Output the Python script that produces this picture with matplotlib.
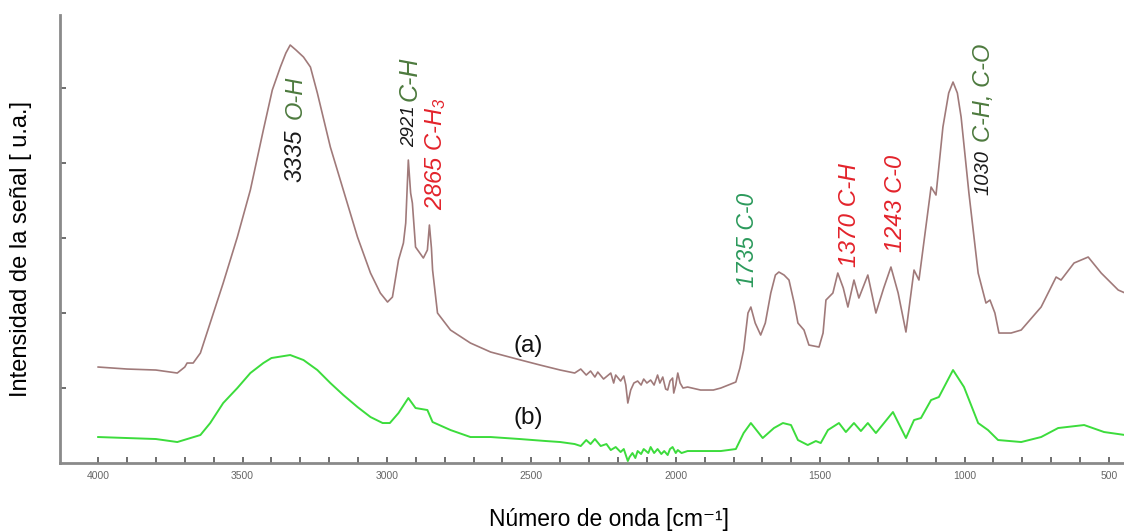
import matplotlib.pyplot as plt

# =========================================================
# DATA  (wavenumber [cm-1], intensity [a.u.])
# =========================================================

wn_a = [4000, 3900, 3800, 3726, 3700, 3692, 3671, 3646, 3612, 3567, 3518, 3473,
        3428, 3397, 3369, 3350, 3335, 3315, 3289, 3265, 3241, 3196, 3151, 3102,
        3057, 3023, 2998, 2981, 2960, 2943, 2935, 2926, 2918, 2912, 2901, 2874,
        2860, 2853, 2846, 2842, 2825, 2780, 2711, 2641, 2550, 2470, 2400, 2350,
        2329, 2310, 2295, 2280, 2270, 2250, 2225, 2215, 2208, 2191, 2180, 2173,
        2166, 2156, 2145, 2132, 2120, 2111, 2100, 2087, 2075, 2063, 2055, 2045,
        2035, 2028, 2020, 2011, 2007, 2000, 1993, 1985, 1975, 1959, 1914, 1870,
        1844, 1810, 1792, 1778, 1765, 1750, 1740, 1725, 1706, 1690, 1671, 1655,
        1643, 1625, 1608, 1590, 1577, 1556, 1539, 1504, 1490, 1480, 1456, 1439,
        1420, 1404, 1383, 1366, 1335, 1307, 1280, 1255, 1230, 1203, 1175, 1158,
        1116, 1099, 1075, 1055, 1040, 1025, 1012, 985, 953, 926, 912, 895, 881,
        839, 804, 735, 683, 666, 621, 572, 527, 468, 444]
int_a = [96, 94, 93, 90, 96, 100, 100, 110, 140, 180, 226, 273,
         333, 373, 396, 410, 418, 413, 406, 396, 370, 316, 273, 226,
         190, 170, 161, 166, 203, 220, 240, 303, 270, 260, 216, 205,
         213, 238, 215, 193, 150, 133, 120, 111, 104, 98, 93, 90,
         94, 88, 92, 86, 91, 84, 90, 80, 88, 82, 87, 78,
         60, 73, 80, 82, 78, 84, 80, 83, 78, 88, 80, 86,
         74, 73, 82, 85, 70, 78, 90, 80, 75, 76, 73, 73,
         75, 79, 81, 95, 113, 150, 156, 140, 128, 140, 170, 188,
         191, 188, 183, 160, 140, 133, 118, 116, 130, 163, 170, 190,
         175, 156, 183, 165, 188, 150, 175, 196, 170, 131, 193, 183,
         276, 268, 336, 370, 381, 370, 346, 270, 190, 160, 163, 150, 130,
         130, 133, 156, 186, 183, 200, 206, 190, 173, 170]

wn_b = [4000, 3900, 3800, 3726, 3646, 3612, 3567, 3518, 3473, 3428, 3400, 3335,
        3289, 3241, 3196, 3151, 3102, 3057, 3015, 2990, 2960, 2926, 2901, 2860,
        2842, 2780, 2711, 2641, 2540, 2450, 2400, 2350, 2329, 2310, 2295, 2280,
        2260, 2240, 2225, 2208, 2191, 2180, 2173, 2166, 2160, 2150, 2140, 2132,
        2120, 2111, 2095, 2087, 2075, 2063, 2050, 2040, 2028, 2020, 2011, 2000,
        1993, 1980, 1959, 1914, 1870, 1844, 1792, 1765, 1740, 1699, 1660, 1629,
        1601, 1577, 1543, 1515, 1498, 1473, 1435, 1411, 1383, 1359, 1335, 1307,
        1248, 1203, 1175, 1151, 1116, 1089, 1060, 1040, 1002, 953, 919, 884,
        804, 735, 676, 586, 517, 444]
int_b = [26, 25, 24, 21, 28, 40, 60, 75, 90, 100, 105, 108,
         103, 93, 80, 68, 56, 46, 40, 40, 50, 65, 55, 53,
         41, 33, 26, 26, 24, 22, 21, 19, 17, 23, 19, 24,
         17, 19, 13, 16, 11, 14, 8, 2, 6, 10, 5, 12,
         9, 14, 10, 16, 10, 14, 9, 12, 8, 14, 16, 10,
         13, 10, 12, 12, 12, 12, 14, 30, 40, 25, 35, 40,
         38, 23, 18, 22, 20, 33, 40, 31, 40, 32, 40, 30,
         51, 25, 43, 45, 63, 66, 82, 93, 76, 40, 33, 23,
         21, 26, 35, 38, 31, 28]

major_ticks = [4000, 3500, 3000, 2500, 2000, 1500, 1000, 500]
y_ticks = [75, 150, 225, 300, 375]

# (wavenumber, height, text, colour, fontsize)
peak_labels = [
    (3317, 281, "3335", "#1a1a1a", 17),
    (3317, 344, "O-H", "#4d7a3e", 17),
    (2922, 316, "2921", "#1a1a1a", 13.5),
    (2922, 362, "C-H", "#4d7a3e", 18),
    (2832, 253, "2865 C-H$_3$", "#e3232b", 17),
    (1751, 176, "1735 C-0", "#2c9a5c", 16.5),
    (1400, 196, "1370 C-H", "#e3232b", 17.5),
    (1238, 211, "1243 C-0", "#e3232b", 17),
    (936, 268, "1030", "#1a1a1a", 14.5),
    (936, 321, "C-H, C-O", "#4d7a3e", 17),
]

# =========================================================
# PLOT
# =========================================================

plt.rcParams["font.family"] = ["Liberation Sans", "DejaVu Sans"]
plt.rcParams["mathtext.fontset"] = "custom"
plt.rcParams["mathtext.rm"] = "Liberation Sans:italic"
plt.rcParams["mathtext.it"] = "Liberation Sans:italic"

fig = plt.figure(figsize=(11.24, 5.31), dpi=100)
ax = fig.add_axes([0.0534, 0.128, 0.9466, 0.8437])

ax.plot(wn_a, int_a, color="#a07a7a", lw=1.2)
ax.plot(wn_b, int_b, color="#3cdc3c", lw=1.4)

ax.set_xlim(4132, 448)
ax.set_ylim(0, 448)

for x, y, txt, col, fs in peak_labels:
    ax.text(x, y, txt, color=col, fontsize=fs, style="italic", rotation=90,
            rotation_mode="anchor", ha="left", va="center")

ax.text(2510, 117, "(a)", fontsize=17.5, ha="center", va="center", color="#111111")
ax.text(2510, 45, "(b)", fontsize=17.5, ha="center", va="center", color="#111111")

# axes styling
for side in ["top", "right"]:
    ax.spines[side].set_visible(False)
for side in ["left", "bottom"]:
    ax.spines[side].set_color("#8a8a8a")
    ax.spines[side].set_linewidth(2)

ax.set_xticks(major_ticks)
ax.set_xticks(range(4000, 499, -100), minor=True)
ax.set_xticklabels([str(t) for t in major_ticks])
ax.set_yticks(y_ticks)
ax.set_yticklabels([])
ax.tick_params(axis="both", which="both", direction="in", length=4, width=1.2,
               color="#555555", labelsize=7.5, labelcolor="#666666", pad=6)

ax.set_ylabel("Intensidad de la señal [ u.a.]", fontsize=17)
ax.yaxis.set_label_coords(-0.026, 0.478)
ax.set_xlabel("Número de onda [cm⁻¹]", fontsize=16.5)
ax.xaxis.set_label_coords(0.516, -0.1)

fig.savefig("out.png", dpi=100)
